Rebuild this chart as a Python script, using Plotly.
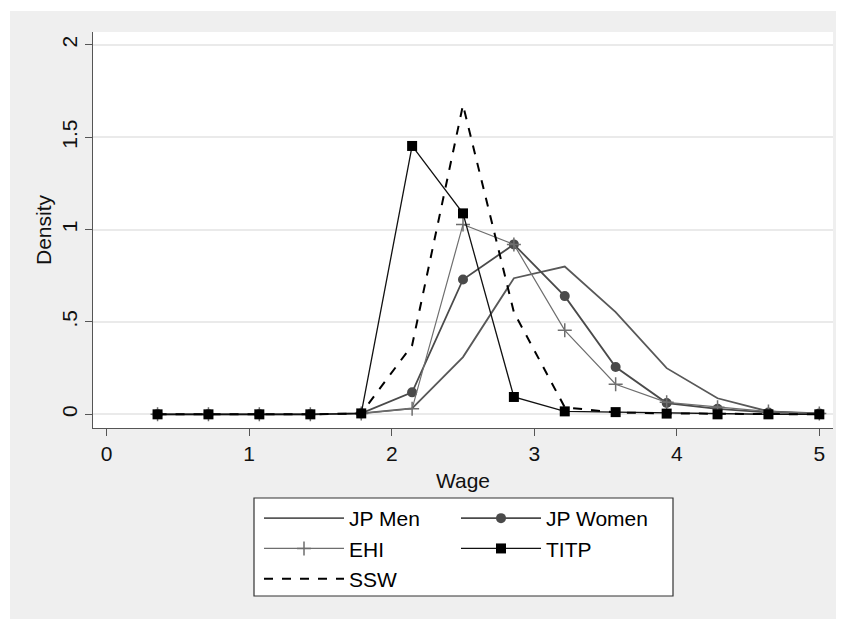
import plotly.graph_objects as go

wage = [0.357, 0.714, 1.071, 1.429, 1.786, 2.143, 2.5, 2.857, 3.214, 3.571, 3.929, 4.286, 4.643, 5.0]

jp_men   = [0, 0, 0, 0, 0.005, 0.032, 0.31, 0.737, 0.80, 0.553, 0.25, 0.087, 0.016, 0.005]
jp_women = [0, 0, 0, 0, 0.005, 0.119, 0.73, 0.92, 0.64, 0.256, 0.061, 0.03, 0.01, 0.005]
ehi      = [0, 0, 0, 0, 0.005, 0.03, 1.028, 0.92, 0.455, 0.163, 0.065, 0.038, 0.015, 0.005]
titp     = [0, 0, 0, 0, 0.005, 1.453, 1.088, 0.094, 0.016, 0.012, 0.004, 0.0, 0.0, 0.0]
ssw      = [0, 0, 0, 0, 0.005, 0.374, 1.675, 0.553, 0.038, 0.01, 0.005, 0.003, 0.0, 0.0]

x_ticks = [0, 1, 2, 3, 4, 5]
y_ticks = [0, 0.5, 1, 1.5, 2]
y_tick_text = ["0", ".5", "1", "1.5", "2"]

FONT = "Liberation Sans, Arial, sans-serif"
FS = 21

fig = go.Figure()
fig.add_trace(go.Scatter(x=wage, y=jp_men, name="JP Men", mode="lines",
                         line=dict(color="#585858", width=1.8),
                         legend="legend", legendgroup="a"))
fig.add_trace(go.Scatter(x=wage, y=jp_women, name="JP Women", mode="lines+markers",
                         line=dict(color="#4a4a4a", width=1.8),
                         marker=dict(symbol="circle", size=10, color="#4a4a4a"),
                         legend="legend2", legendgroup="b"))
fig.add_trace(go.Scatter(x=wage, y=ehi, name="EHI", mode="lines+markers",
                         line=dict(color="#6e6e6e", width=1.2),
                         marker=dict(symbol="cross-thin-open", size=10,
                                     line=dict(color="#6e6e6e", width=1.5)),
                         legend="legend", legendgroup="c"))
fig.add_trace(go.Scatter(x=wage, y=titp, name="TITP", mode="lines+markers",
                         line=dict(color="#111111", width=1.3),
                         marker=dict(symbol="square", size=10, color="#000000"),
                         legend="legend2", legendgroup="d"))
fig.add_trace(go.Scatter(x=wage, y=ssw, name="SSW", mode="lines",
                         line=dict(color="#000000", width=2, dash="dash"),
                         legend="legend", legendgroup="e"))

# page body has an 8px margin; figure coordinates = screen - 8
OFF = 8
W, H = 844, 619
L, T = 93 - OFF, 32 - OFF
R = W - (833 - OFF)
B = H - (428 - OFF)
pw, ph = W - L - R, H - T - B

def px(xs):
    return (xs - OFF - L) / pw

def py(ys):
    return (H - B - (ys - OFF)) / ph

legend_common = dict(
    orientation="v", bgcolor="rgba(0,0,0,0)", borderwidth=0,
    font=dict(family=FONT, size=FS, color="#000000"),
    itemwidth=80, tracegroupgap=0, xanchor="left", yanchor="top",
    itemclick=False, itemdoubleclick=False,
)

fig.update_layout(
    width=W, height=H,
    margin=dict(l=L, r=R, t=T, b=B, pad=0),
    paper_bgcolor="#efefef",
    plot_bgcolor="#ffffff",
    font=dict(family=FONT, size=FS, color="#000000"),
    showlegend=True,
    legend=dict(legend_common, x=px(259), y=py(498)),
    legend2=dict(legend_common, x=px(456), y=py(498)),
    xaxis=dict(
        range=[-0.096, 5.096], tickmode="array", tickvals=x_ticks,
        ticktext=[str(v) for v in x_ticks],
        showgrid=False, zeroline=False,
        showline=True, linecolor="#555555", linewidth=1.2,
        ticks="outside", ticklen=7, tickcolor="#555555", tickwidth=1,
        tickfont=dict(family=FONT, size=FS, color="#111111"),
        title=dict(text="Wage", font=dict(family=FONT, size=FS, color="#111111"), standoff=9),
    ),
    yaxis=dict(
        range=[-0.074, 2.07], tickmode="array", tickvals=y_ticks, ticktext=y_tick_text,
        tickangle=-90,
        showgrid=True, gridcolor="#eaeaea", gridwidth=1.5, zeroline=False,
        showline=True, linecolor="#555555", linewidth=1.2,
        ticks="outside", ticklen=7, tickcolor="#555555", tickwidth=1,
        tickfont=dict(family=FONT, size=FS, color="#111111"),
        title=dict(text="Density", font=dict(family=FONT, size=FS, color="#111111"), standoff=0),
    ),
    shapes=[
        # white outer strips (top and left)
        dict(type="rect", xref="paper", yref="paper", layer="above",
             x0=px(-5), x1=px(10), y0=py(H + 20), y1=py(-5),
             fillcolor="#ffffff", line=dict(width=0)),
        dict(type="rect", xref="paper", yref="paper", layer="above",
             x0=px(-5), x1=px(W + 20), y0=py(11), y1=py(-5),
             fillcolor="#ffffff", line=dict(width=0)),
        # legend box
        dict(type="rect", xref="paper", yref="paper", layer="above",
             x0=px(254), x1=px(673), y0=py(596), y1=py(498),
             fillcolor="#ffffff", line=dict(color="#333333", width=1.2)),
    ],
)

fig.write_html("out.html")
